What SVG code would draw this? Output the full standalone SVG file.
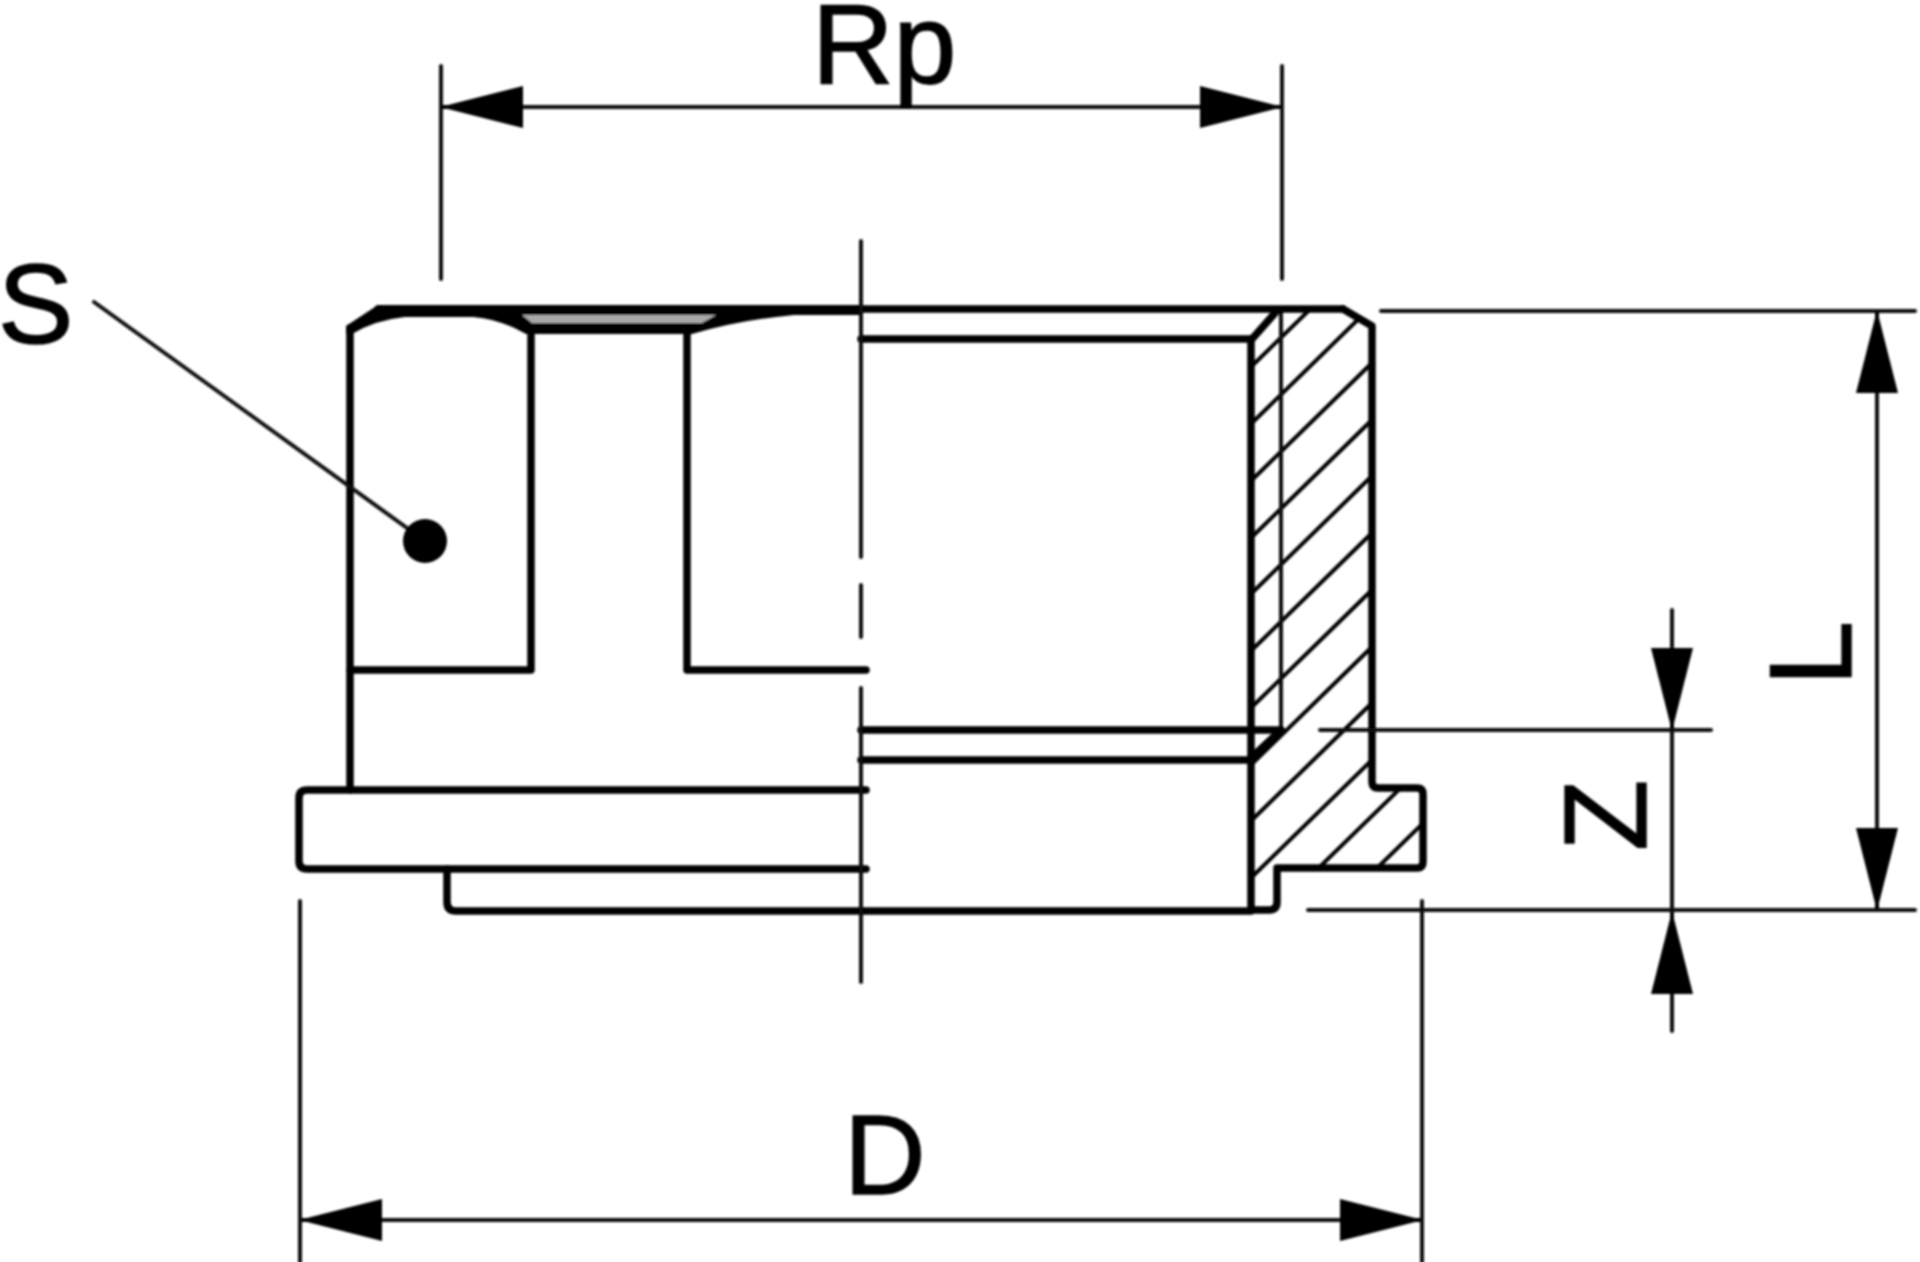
<svg xmlns="http://www.w3.org/2000/svg" width="1920" height="1262" viewBox="0 0 1920 1262">
  <style>
    .heavy{fill:none;stroke:#000;stroke-width:7.500;stroke-linejoin:round;stroke-linecap:round}
    .thin{fill:none;stroke:#111;stroke-width:4;stroke-linecap:round}
    .hatch{fill:none;stroke:#000;stroke-width:4}
    .dim{marker-end:url(#arrow)}
    .lbl{font-family:"Liberation Sans",Arial,sans-serif;font-size:113px;fill:#000;stroke:#000;stroke-width:1.500px}
    .rot{font-size:117px}
  </style>
  <defs>
    <marker id="arrow" markerUnits="userSpaceOnUse" markerWidth="84" markerHeight="44" refX="82" refY="22" orient="auto-start-reverse">
      <path d="M0 1L83 22L0 43Z" fill="#000"/>
    </marker>
    <clipPath id="section">
      <path d="M1251 339L1275 309H1343L1372 326V788H1423V868H1277V910H1251Z"/>
    </clipPath>
    <filter id="soft" filterUnits="userSpaceOnUse" x="0" y="0" width="1920" height="1262">
      <feGaussianBlur stdDeviation="0.900"/>
    </filter>
  </defs>
  <rect width="1920" height="1262" fill="#fff"/>

  <g filter="url(#soft)">
  <g id="fitting-section">
    <g clip-path="url(#section)" class="hatch">
      <path d="M1155 460.500L1500 124.100"/>
      <path d="M1155 517.500L1500 181.100"/>
      <path d="M1155 574.500L1500 238.100"/>
      <path d="M1155 631.500L1500 295.100"/>
      <path d="M1155 687.500L1500 351.100"/>
      <path d="M1155 744.500L1500 408.100"/>
      <path d="M1155 801.500L1500 465.100"/>
      <path d="M1155 858.500L1500 522.100"/>
      <path d="M1155 914.500L1500 578.100"/>
      <path d="M1155 971.500L1500 635.100"/>
      <path d="M1155 1027.500L1500 691.100"/>
      <path d="M1155 1084.500L1500 748.100"/>
    </g>
    <path class="thin" d="M1281 309V730"/>
    <path class="heavy" d="M1252 339L1275 313"/>
    <path class="heavy" d="M1251 339V910"/>
    <path class="heavy" d="M1343 309L1372 326V782Q1372 788 1378 788H1417Q1423 788 1423 794V862Q1423 868 1417 868H1277V902Q1277 910 1269 910H1251"/>
    <path class="heavy" d="M1281 730L1251 758"/>
  </g>

  <g id="fitting-body">
    <path d="M346 326L378 305H861V315H794Q740 320 692 334H526Q500 319 473 317H405Q375 320 352 334H346Z" fill="#000"/>
    <path d="M522 315H716L702 323H532Z" fill="#a8a8a8"/>
    <path class="heavy" d="M378 309H1343"/>
    <path class="heavy" d="M350 328V790"/>
    <path class="heavy" d="M531 330V670H350"/>
    <path class="heavy" d="M687 330V670H866"/>
    <path class="heavy" d="M531 330H687"/>
    <path class="heavy" d="M861 339H1251"/>
    <path class="heavy" d="M861 730H1281"/>
    <path class="heavy" d="M861 760H1251"/>
    <path class="heavy" d="M866 790H307Q299 790 299 798V861Q299 869 307 869H866"/>
    <path class="heavy" d="M447 869V902Q447 911 456 911H1251"/>
  </g>

  <g id="centerline">
    <path class="thin" d="M861 241V557M861 585V637M861 688V982"/>
  </g>

  <g id="dimensions">
    <path class="thin" d="M441 66V279M1282 66V279"/>
    <path class="thin dim" style="marker-start:url(#arrow)" d="M441 107H1282"/>
    <path class="thin" d="M1381 311H1915M1308 910H1915M1320 730H1711"/>
    <path class="thin dim" style="marker-start:url(#arrow)" d="M1877 311V910"/>
    <path class="thin dim" d="M1672 610V730"/>
    <path class="thin" d="M1672 730V912"/>
    <path class="thin dim" d="M1672 1031V912"/>
    <path class="thin" d="M300 901V1262M1422 901V1262"/>
    <path class="thin dim" style="marker-start:url(#arrow)" d="M300 1220H1422"/>
    <path class="thin" d="M94 302L425 541"/>
    <circle cx="425" cy="541" r="22" fill="#000"/>
  </g>

  <g id="labels">
    <text class="lbl" x="812" y="83">Rp</text>
    <text class="lbl" x="-2" y="343">S</text>
    <text class="lbl" x="844" y="1194">D</text>
    <text class="lbl rot" transform="translate(1851 686) rotate(-90)">L</text>
    <text class="lbl rot" transform="translate(1646 851) rotate(-90)">Z</text>
  </g>
  </g>
</svg>
